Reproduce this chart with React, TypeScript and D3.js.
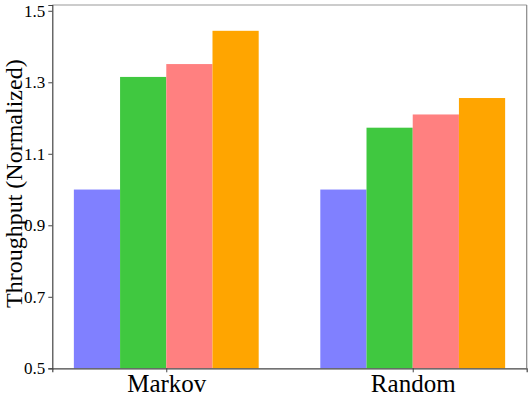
import React, { useEffect, useRef } from "react";
import * as d3 from "d3";

const categories = ["Markov", "Random"];
const seriesNames = ["s1", "s2", "s3", "s4"];
const seriesColors = ["#8080ff", "#40c840", "#ff8080", "#ffa500"];
const markovValues = [1.0, 1.315, 1.351, 1.444];
const randomValues = [1.0, 1.173, 1.21, 1.256];
const yTicks = [0.5, 0.7, 0.9, 1.1, 1.3, 1.5];

export default function App() {
  const svgRef = useRef<SVGSVGElement>(null);

  useEffect(() => {
    const width = 531;
    const height = 399;
    const margin = { top: 5, right: 4.3, bottom: 30.7, left: 52.3 };
    const innerW = width - margin.left - margin.right;
    const innerH = height - margin.top - margin.bottom;
    const serif = "'Liberation Serif', 'DejaVu Serif', serif";

    const svgEl = d3.select(svgRef.current);
    svgEl.selectAll("*").remove();
    svgEl.attr("width", width).attr("height", height);

    const svg = svgEl
      .append("g")
      .attr("transform", `translate(${margin.left},${margin.top})`);

    const values = [markovValues, randomValues];
    const barW = 0.1875;

    // x in "group index" units, matplotlib-like margins
    const xScale = d3.scaleLinear().domain([-0.4625, 1.4625]).range([0, innerW]);
    const yScale = d3.scaleLinear().domain([0.5, 1.5162]).range([innerH, 0]);

    // Bars
    categories.forEach((cat, gi) => {
      values[gi].forEach((v, si) => {
        const x0 = gi - 0.375 + si * barW;
        svg.append("rect")
          .attr("x", xScale(x0))
          .attr("y", yScale(v))
          .attr("width", xScale(x0 + barW) - xScale(x0))
          .attr("height", yScale(0.5) - yScale(v))
          .attr("fill", seriesColors[si])
          .attr("data-series", seriesNames[si]);
      });
    });

    // Frame: top/right lighter
    svg.append("line")
      .attr("x1", 0).attr("x2", innerW).attr("y1", 0).attr("y2", 0)
      .attr("stroke", "#999").attr("stroke-width", 1.2);
    svg.append("line")
      .attr("x1", innerW).attr("x2", innerW).attr("y1", 0).attr("y2", innerH)
      .attr("stroke", "#888").attr("stroke-width", 1.2);

    // Y axis
    const yAxis = svg.append("g")
      .call(d3.axisLeft(yScale).tickValues(yTicks).tickSize(4).tickPadding(3).tickFormat(d3.format(".1f")));
    yAxis.select(".domain").attr("stroke", "#444").attr("stroke-width", 1.2);
    yAxis.selectAll(".tick line").attr("stroke", "#444");
    yAxis.selectAll("text")
      .attr("font-family", serif)
      .attr("font-size", "17px")
      .attr("fill", "#000");

    // X axis
    const xAxis = svg.append("g")
      .attr("transform", `translate(0,${innerH})`)
      .call(d3.axisBottom(xScale).tickValues([0, 1]).tickSize(4).tickPadding(2)
        .tickFormat((d) => categories[d as number]));
    xAxis.select(".domain").attr("stroke", "#444").attr("stroke-width", 1.2);
    xAxis.selectAll(".tick line").attr("stroke", "#444");
    xAxis.selectAll("text")
      .attr("font-family", serif)
      .attr("font-size", "25px")
      .attr("fill", "#000");

    // Y label
    svg.append("text")
      .attr("transform", `translate(${-30},${innerH / 2 - 3}) rotate(-90)`)
      .attr("text-anchor", "middle")
      .attr("font-family", serif)
      .attr("font-size", "24px")
      .attr("fill", "#000")
      .text("Throughput (Normalized)");
  }, []);

  return (
    <div style={{ position: "absolute", left: 0, top: 0 }}>
      <svg ref={svgRef} style={{ display: "block" }}></svg>
    </div>
  );
}
